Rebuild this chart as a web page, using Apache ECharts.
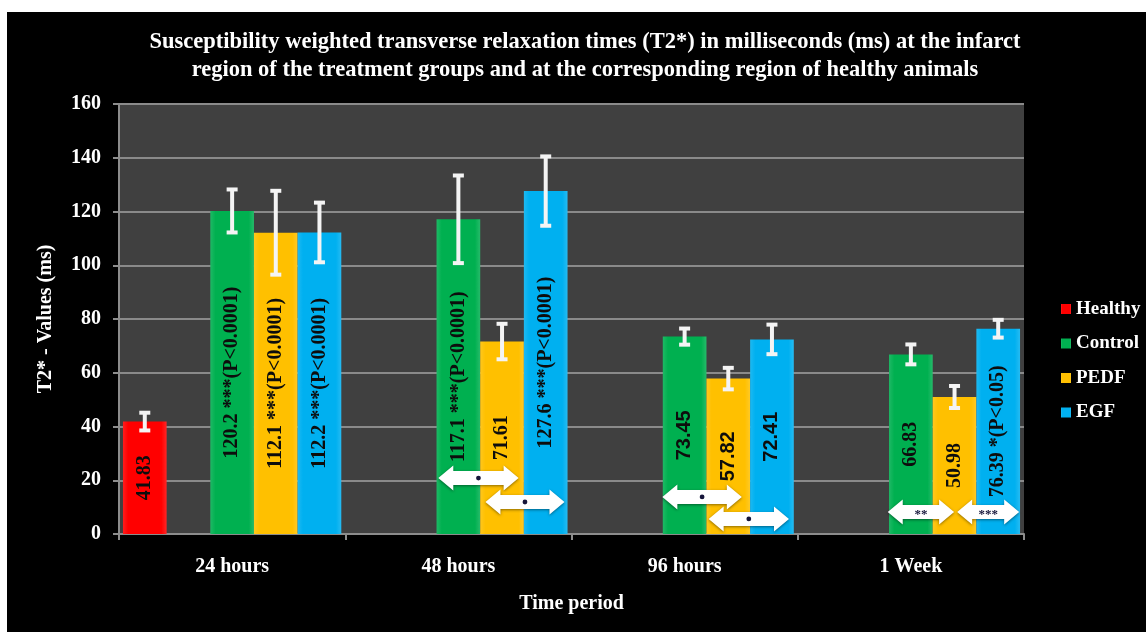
<!DOCTYPE html>
<html>
<head>
<meta charset="utf-8">
<script src="https://cdn.jsdelivr.net/npm/echarts@6/dist/echarts.min.js"></script>
<style>
  html, body { margin: 0; padding: 0; background: #ffffff; width: 1146px; height: 632px; overflow: hidden; }
  #chart { position: absolute; left: 7px; top: 12px; width: 1139px; height: 620px; background: #000000; }
</style>
</head>
<body>
<div id="chart"></div>
<script>
// T2* relaxation times (ms) per group and time point
const categories = ['24 hours', '48 hours', '96 hours', '1 Week'];
const healthy = [41.83, null, null, null];
const control = [120.2, 117.1, 73.45, 66.83];
const pedf    = [112.1, 71.61, 57.82, 50.98];
const egf     = [112.2, 127.6, 72.41, 76.39];

// standard deviations (error bars)
const healthyErr = [3.3, null, null, null];
const controlErr = [8.0, 16.3, 3.0, 3.7];
const pedfErr    = [15.6, 6.6, 4.0, 4.1];
const egfErr     = [11.1, 12.9, 5.5, 3.3];

// significance notes appended to the value labels
const controlSig = ['***(P<0.0001)', '***(P<0.0001)', '', ''];
const pedfSig    = ['***(P<0.0001)', '', '', ''];
const egfSig     = ['***(P<0.0001)', '***(P<0.0001)', '', '*(P<0.05)'];
const healthySig = ['', '', '', ''];

// pairwise comparison arrows: [category, y value, from slot, to slot]
const arrowSpans = [
  [1, 20.8, 2.04, 3.88],
  [1, 11.9, 3.12, 4.93],
  [2, 13.8, 1.99, 3.81],
  [2, 5.6, 3.05, 4.89],
  [3, 8.2, 1.97, 3.49],
  [3, 8.2, 3.56, 4.98]
];
const arrowMarks = ['\u2022', '\u2022', '\u2022', '\u2022', '**', '***'];

const yTicks = { min: 0, max: 160, interval: 20 };

const SERIF = '"Liberation Serif", "Times New Roman", serif';
const SANS = '"Liberation Sans", Arial, sans-serif';
const SLOTS = 5;          // Healthy, (empty), Control, PEDF, EGF
const GAP = 0.035;        // category gap fraction

const colors = { Healthy: '#ff0000', Control: '#00b050', PEDF: '#ffc000', EGF: '#00b0f0' };

function barSeries(name, values, sigs) {
  return {
    name: name,
    type: 'bar',
    barGap: '0%',
    barCategoryGap: (GAP * 100) + '%',
    itemStyle: {
      color: {
        type: 'linear', x: 0, y: 0, x2: 1, y2: 0,
        colorStops: [
          { offset: 0, color: echarts.color.lift(colors[name], 0.12) },
          { offset: 0.12, color: colors[name] },
          { offset: 0.88, color: colors[name] },
          { offset: 1, color: echarts.color.lift(colors[name], 0.15) }
        ]
      }
    },
    label: {
      show: true,
      position: 'inside',
      rotate: 90,
      align: 'center',
      verticalAlign: 'middle',
      color: '#0d0d0d',
      fontFamily: SERIF,
      fontWeight: 'bold',
      fontSize: 20,
      formatter: function (p) {
        const s = sigs[p.dataIndex];
        return s ? p.value + ' ' + s : String(p.value);
      }
    },
    data: values.map(function (v, i) {
      if (v == null) return null;
      return i === 2 ? { value: v, label: { fontFamily: SANS } } : v;
    }),
    z: 2
  };
}

function slotX(api, cat, slot) {
  const c = api.coord([cat, 0])[0];
  const band = api.size([1, 0])[0];
  const inner = band * (1 - GAP);
  return c - inner / 2 + slot * inner / SLOTS;
}

// error bar items: [category, value, sd, slot]
const errItems = [];
[[healthy, healthyErr, 0], [control, controlErr, 2], [pedf, pedfErr, 3], [egf, egfErr, 4]].forEach(function (g) {
  g[0].forEach(function (v, i) {
    if (v != null) errItems.push([i, v, g[1][i], g[2]]);
  });
});

const chart = echarts.init(document.getElementById('chart'), null, { renderer: 'canvas' });

chart.setOption({
  backgroundColor: '#000000',
  animation: false,
  graphic: [{
    type: 'text',
    x: 578, y: 44,
    style: {
      text: 'Susceptibility weighted transverse relaxation times (T2*) in milliseconds (ms) at the infarct\nregion of the treatment groups and at the corresponding region of healthy animals',
      fill: '#ffffff',
      font: 'bold 22.5px ' + SERIF,
      lineHeight: 28,
      align: 'center',
      verticalAlign: 'middle'
    }
  }],
  legend: {
    orient: 'vertical',
    left: 1049,
    top: 282,
    itemWidth: 10,
    itemHeight: 10,
    itemGap: 14.5,
    itemTextGap: 5,
    icon: 'rect',
    data: ['Healthy', 'Control', 'PEDF', 'EGF'],
    textStyle: { color: '#ffffff', fontFamily: SERIF, fontWeight: 'bold', fontSize: 19, lineHeight: 20 }
  },
  grid: {
    left: 112, top: 92, width: 905, height: 430,
    show: true, backgroundColor: '#404040', borderWidth: 0
  },
  xAxis: {
    type: 'category',
    data: categories,
    axisLine: { lineStyle: { color: '#8c8c8c', width: 2 } },
    axisTick: { show: true, length: 6, lineStyle: { color: '#8c8c8c', width: 2 } },
    axisLabel: { color: '#ffffff', fontFamily: SERIF, fontWeight: 'bold', fontSize: 20, margin: 23 },
    name: 'Time period',
    nameLocation: 'middle',
    nameGap: 70,
    nameTextStyle: { color: '#ffffff', fontFamily: SERIF, fontWeight: 'bold', fontSize: 20, verticalAlign: 'middle' }
  },
  yAxis: {
    type: 'value',
    min: yTicks.min, max: yTicks.max, interval: yTicks.interval,
    axisLine: { show: true, lineStyle: { color: '#8c8c8c', width: 2 } },
    axisTick: { show: true, length: 6, lineStyle: { color: '#8c8c8c', width: 2 } },
    splitLine: { lineStyle: { color: '#8a8a8a', width: 2 } },
    axisLabel: { color: '#ffffff', fontFamily: SERIF, fontWeight: 'bold', fontSize: 20, margin: 18 },
    name: 'T2* - Values (ms)',
    nameLocation: 'middle',
    nameRotate: 90,
    nameGap: 73,
    nameTextStyle: { color: '#ffffff', fontFamily: SERIF, fontWeight: 'bold', fontSize: 20, verticalAlign: 'middle' }
  },
  series: [
    barSeries('Healthy', healthy, healthySig),
    { name: 'spacer', type: 'bar', barGap: '0%', barCategoryGap: (GAP * 100) + '%', data: [null, null, null, null], silent: true },
    barSeries('Control', control, controlSig),
    barSeries('PEDF', pedf, pedfSig),
    barSeries('EGF', egf, egfSig),
    {
      type: 'custom',
      name: 'errors',
      z: 5,
      silent: true,
      data: errItems,
      renderItem: function (params, api) {
        const cat = api.value(0), v = api.value(1), sd = api.value(2), slot = api.value(3);
        const x = slotX(api, cat, slot + 0.5);
        const yt = api.coord([cat, v + sd])[1];
        const yb = api.coord([cat, v - sd])[1];
        const st = { stroke: '#f4f4f4', lineWidth: 4 };
        return {
          type: 'group',
          children: [
            { type: 'line', shape: { x1: x, y1: yt, x2: x, y2: yb }, style: st },
            { type: 'line', shape: { x1: x - 5.5, y1: yt, x2: x + 5.5, y2: yt }, style: st },
            { type: 'line', shape: { x1: x - 5.5, y1: yb, x2: x + 5.5, y2: yb }, style: st }
          ]
        };
      }
    },
    {
      type: 'custom',
      name: 'comparisons',
      z: 6,
      silent: true,
      data: arrowSpans,
      renderItem: function (params, api) {
        const cat = api.value(0), yv = api.value(1);
        const x0 = slotX(api, cat, api.value(2));
        const x1 = slotX(api, cat, api.value(3));
        const y = api.coord([cat, yv])[1];
        const H = 12.5, S = 7, h = 15;
        const pts = [
          [x0, y], [x0 + h, y - H], [x0 + h, y - S], [x1 - h, y - S], [x1 - h, y - H],
          [x1, y], [x1 - h, y + H], [x1 - h, y + S], [x0 + h, y + S], [x0 + h, y + H]
        ];
        const mark = arrowMarks[params.dataIndex];
        const xm = (x0 + x1) / 2;
        const children = [{
          type: 'polygon',
          shape: { points: pts },
          style: { fill: '#ffffff', shadowBlur: 3, shadowColor: 'rgba(0,0,0,0.45)', shadowOffsetY: 1 }
        }];
        if (mark === '\u2022') {
          children.push({ type: 'circle', shape: { cx: xm, cy: y, r: 2.4 }, style: { fill: '#15153a' } });
        } else {
          children.push({
            type: 'text',
            x: xm, y: y + 3,
            style: { text: mark, fill: '#15153a', font: 'bold 13px ' + SERIF, align: 'center', verticalAlign: 'middle' }
          });
        }
        return { type: 'group', children: children };
      }
    }
  ]
});
</script>
</body>
</html>
